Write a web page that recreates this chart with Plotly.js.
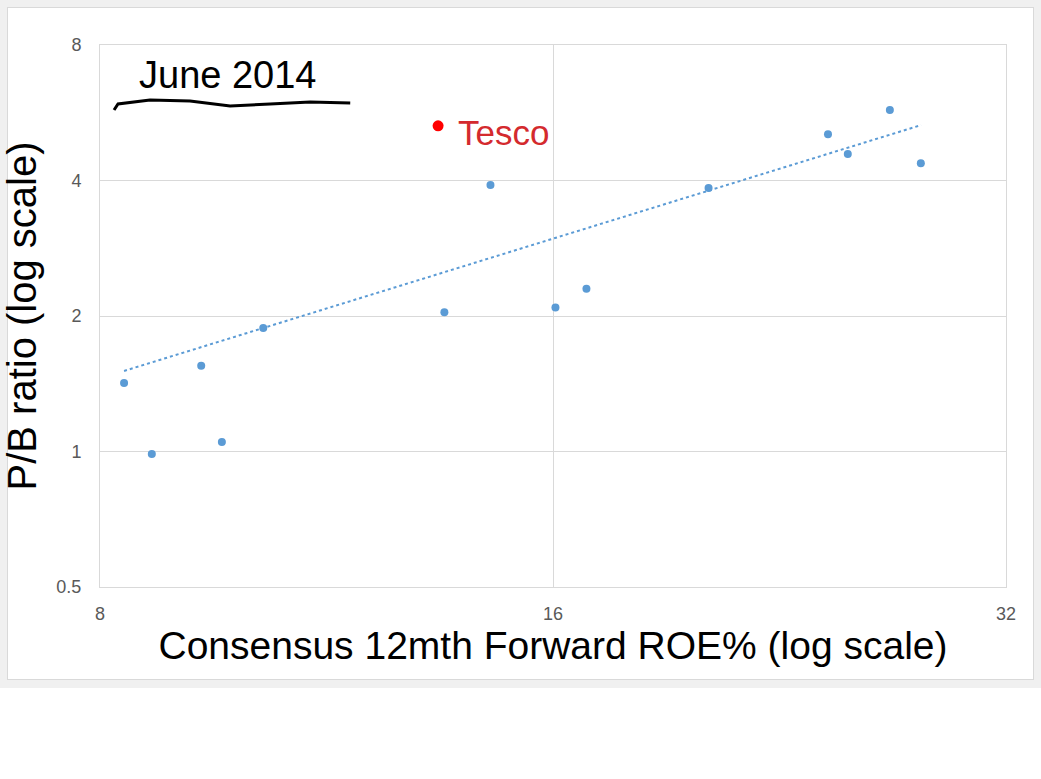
<!DOCTYPE html>
<html>
<head>
<meta charset="utf-8">
<script src="https://cdn.plot.ly/plotly-3.0.1.min.js"></script>
<style>
  html, body { margin: 0; padding: 0; background: #ffffff; }
  #frame { position: absolute; left: 0; top: 0; width: 1041px; height: 688px; background: #f0f0f0; }
  #inner { position: absolute; left: 7px; top: 7px; width: 1025px; height: 671px; background: #ffffff; border: 1px solid #d9d9d9; }
  #chart { position: absolute; left: 0; top: 0; width: 1041px; height: 779px; }
</style>
</head>
<body>
<div id="frame"><div id="inner"></div></div>
<div id="chart"></div>
<script>
// Consensus 12mth forward ROE % (x) and P/B ratio (y), June 2014
const roe = [8.30, 8.66, 9.34, 9.64, 10.27, 13.55, 14.54, 16.06, 16.84, 20.30, 24.37, 25.12, 26.79, 28.09];
const pb  = [1.42, 0.987, 1.55, 1.05, 1.88, 2.04, 3.91, 2.09, 2.30, 3.85, 5.07, 4.58, 5.74, 4.37];

// Tesco (highlighted)
const tescoRoe = [13.42];
const tescoPb  = [5.29];
const tescoLabel = 'Tesco';

// Power trendline endpoints as drawn
const trendRoe = [8.30, 28.10];
const trendPb  = [1.51, 5.31];

// Axis ticks
const xTicks = [8, 16, 32];
const xTickText = ['8', '16', '32'];
const yTicks = [0.5, 1, 2, 4, 8];
const yTickText = ['0.5', '1', '2', '4', '8'];

const chartTitle = 'June 2014';
const xTitle = 'Consensus 12mth Forward ROE% (log scale)';
const yTitle = 'P/B ratio (log scale)';

const blue = '#5b9bd5';
const red = '#ff0000';
const hand = '"Liberation Sans", "DejaVu Sans", sans-serif';

const traces = [
  {
    x: trendRoe, y: trendPb, type: 'scatter', mode: 'lines',
    line: { color: blue, width: 2, dash: 'dot' }, hoverinfo: 'skip', showlegend: false
  },
  {
    x: roe, y: pb, type: 'scatter', mode: 'markers',
    marker: { color: blue, size: 8 }, showlegend: false
  },
  {
    x: tescoRoe, y: tescoPb, type: 'scatter', mode: 'markers',
    marker: { color: red, size: 11 }, showlegend: false
  }
];

const layout = {
  width: 1041, height: 779,
  margin: { l: 100, r: 35, t: 45, b: 192 },
  paper_bgcolor: 'rgba(0,0,0,0)',
  plot_bgcolor: '#ffffff',
  font: { family: '"Liberation Sans", Arial, sans-serif', color: '#595959', size: 18 },
  xaxis: {
    type: 'log',
    range: [Math.log10(8), Math.log10(32)],
    tickvals: xTicks, ticktext: xTickText,
    showgrid: true, gridcolor: '#d9d9d9', gridwidth: 1,
    showline: true, linecolor: '#d9d9d9', linewidth: 1, mirror: true,
    zeroline: false, ticks: '', ticklabelstandoff: 10,
    tickfont: { size: 18, color: '#595959' },
    title: { text: xTitle, font: { family: hand, size: 39, color: '#000000' }, standoff: 8 }
  },
  yaxis: {
    type: 'log',
    range: [Math.log10(0.5), Math.log10(8)],
    tickvals: yTicks, ticktext: yTickText,
    showgrid: true, gridcolor: '#d9d9d9', gridwidth: 1,
    showline: true, linecolor: '#d9d9d9', linewidth: 1, mirror: true,
    zeroline: false, ticks: '', ticklabelstandoff: 14,
    tickfont: { size: 18, color: '#595959' },
    title: { text: yTitle, font: { family: hand, size: 40, color: '#000000' }, standoff: 8 }
  },
  annotations: [
    {
      xref: 'paper', yref: 'paper', x: 0.1414, y: 0.9446,
      xanchor: 'center', yanchor: 'middle', showarrow: false,
      text: chartTitle, font: { family: hand, size: 38, color: '#000000' }
    },
    {
      xref: 'x', yref: 'y', x: Math.log10(tescoRoe[0]), y: Math.log10(tescoPb[0]),
      xanchor: 'left', yanchor: 'middle', xshift: 18, yshift: -7, showarrow: false,
      text: tescoLabel, font: { family: hand, size: 35, color: '#d42a2e' }
    }
  ],
  shapes: [
    {
      type: 'path', xref: 'paper', yref: 'paper',
      path: 'M 0.0155 0.8801 L 0.0199 0.8911 L 0.0552 0.8985 L 0.0994 0.8967 L 0.1436 0.8875 L 0.1878 0.8911 L 0.2320 0.8948 L 0.2762 0.8930',
      line: { color: '#000000', width: 3 }
    }
  ]
};

Plotly.newPlot('chart', traces, layout, { displayModeBar: false, staticPlot: true });
</script>
</body>
</html>
